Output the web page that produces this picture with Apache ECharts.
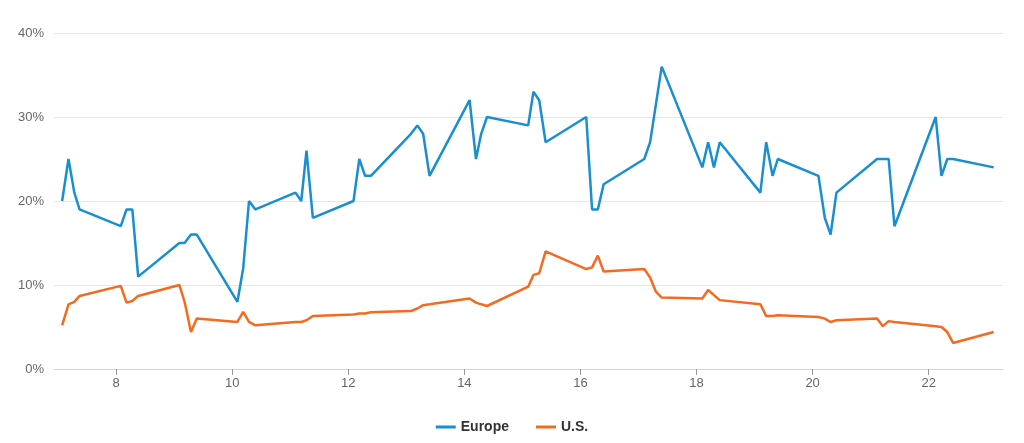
<!DOCTYPE html>
<html>
<head>
<meta charset="utf-8">
<script src="https://cdn.jsdelivr.net/npm/echarts@6/dist/echarts.min.js"></script>
<style>
html,body{margin:0;padding:0;background:#fff;}
#chart{width:1024px;height:443px;}
</style>
</head>
<body>
<div id="chart"></div>
<script>
const xValues = [
  7.07, 7.18, 7.28, 7.37,
  8.08, 8.18, 8.28, 8.38,
  9.09, 9.18, 9.29, 9.39,
  10.09, 10.19, 10.29, 10.40,
  11.09, 11.19, 11.28, 11.39,
  12.09, 12.19, 12.29, 12.39,
  13.08, 13.19, 13.29, 13.40,
  14.09, 14.20, 14.29, 14.39,
  15.10, 15.19, 15.29, 15.40,
  16.10, 16.20, 16.30, 16.40,
  17.10, 17.20, 17.30, 17.40,
  18.10, 18.20, 18.30, 18.40,
  19.10, 19.20, 19.31, 19.40,
  20.10, 20.21, 20.31, 20.41,
  21.11, 21.21, 21.31, 21.41,
  22.12, 22.22, 22.32, 22.42,
  23.12
];
const europe = [
  20, 25, 21, 19,
  17, 19, 19, 11,
  15, 15, 16, 16,
  8, 12, 20, 19,
  21, 20, 26, 18,
  20, 25, 23, 23,
  28, 29, 28, 23,
  32, 25, 28, 30,
  29, 33, 32, 27,
  30, 19, 19, 22,
  25, 27, 31.5, 36,
  24, 27, 24, 27,
  21, 27, 23, 25,
  23, 18, 16, 21,
  25, 25, 25, 17,
  30, 23, 25, 25,
  24
];
const us = [
  5.2, 7.7, 8.0, 8.7,
  9.9, 7.9, 8.1, 8.7,
  10.0, 8.0, 4.4, 6.0,
  5.6, 6.8, 5.6, 5.2,
  5.6, 5.6, 5.8, 6.3,
  6.5, 6.6, 6.6, 6.75,
  6.9, 7.2, 7.6, 7.7,
  8.4, 7.9, 7.7, 7.5,
  9.8, 11.2, 11.4, 14.0,
  11.9, 12.1, 13.5, 11.6,
  11.9, 10.9, 9.2, 8.5,
  8.4, 9.4, 8.8, 8.2,
  7.7, 6.3, 6.3, 6.4,
  6.2, 6.0, 5.6, 5.8,
  6.0, 5.1, 5.7, 5.6,
  5.1, 5.0, 4.4, 3.1,
  4.4
];
const xTicks = [8, 10, 12, 14, 16, 18, 20, 22];
const seriesNames = ['Europe', 'U.S.'];
const colors = ['#1a8fcf', '#f26b21'];

const toPairs = (ys) => xValues.map((x, i) => [x, ys[i]]);
const font = 'Liberation Sans, Arial, sans-serif';

const chart = echarts.init(document.getElementById('chart'));
chart.setOption({
  animation: false,
  color: colors,
  textStyle: { fontFamily: font },
  grid: { left: 54, right: 21, top: 33, bottom: 74, containLabel: false },
  legend: {
    bottom: 4,
    left: 'center',
    icon: 'rect',
    itemWidth: 20,
    itemHeight: 3,
    itemGap: 27,
    textStyle: { color: '#333', fontSize: 14, fontWeight: 'bold', fontFamily: font },
    data: seriesNames
  },
  xAxis: {
    type: 'value',
    min: 6.93,
    max: 23.28,
    axisLine: { show: true, lineStyle: { color: '#ccd6eb', width: 1 } },
    axisTick: { show: true, customValues: xTicks, length: 6, lineStyle: { color: '#999' } },
    axisLabel: { customValues: xTicks, color: '#666', fontSize: 13, margin: 8, fontFamily: font },
    splitLine: { show: false }
  },
  yAxis: {
    type: 'value',
    min: 0,
    max: 40,
    interval: 10,
    axisLine: { show: false },
    axisTick: { show: false },
    axisLabel: { formatter: '{value}%', color: '#666', fontSize: 13, margin: 10, fontFamily: font },
    splitLine: { lineStyle: { color: '#e6e6e6', width: 1 } }
  },
  series: [
    {
      name: seriesNames[0], type: 'line', data: toPairs(europe),
      showSymbol: false, symbol: 'none', lineStyle: { width: 2.5 }
    },
    {
      name: seriesNames[1], type: 'line', data: toPairs(us),
      showSymbol: false, symbol: 'none', lineStyle: { width: 2.5 }
    }
  ]
});
</script>
</body>
</html>
